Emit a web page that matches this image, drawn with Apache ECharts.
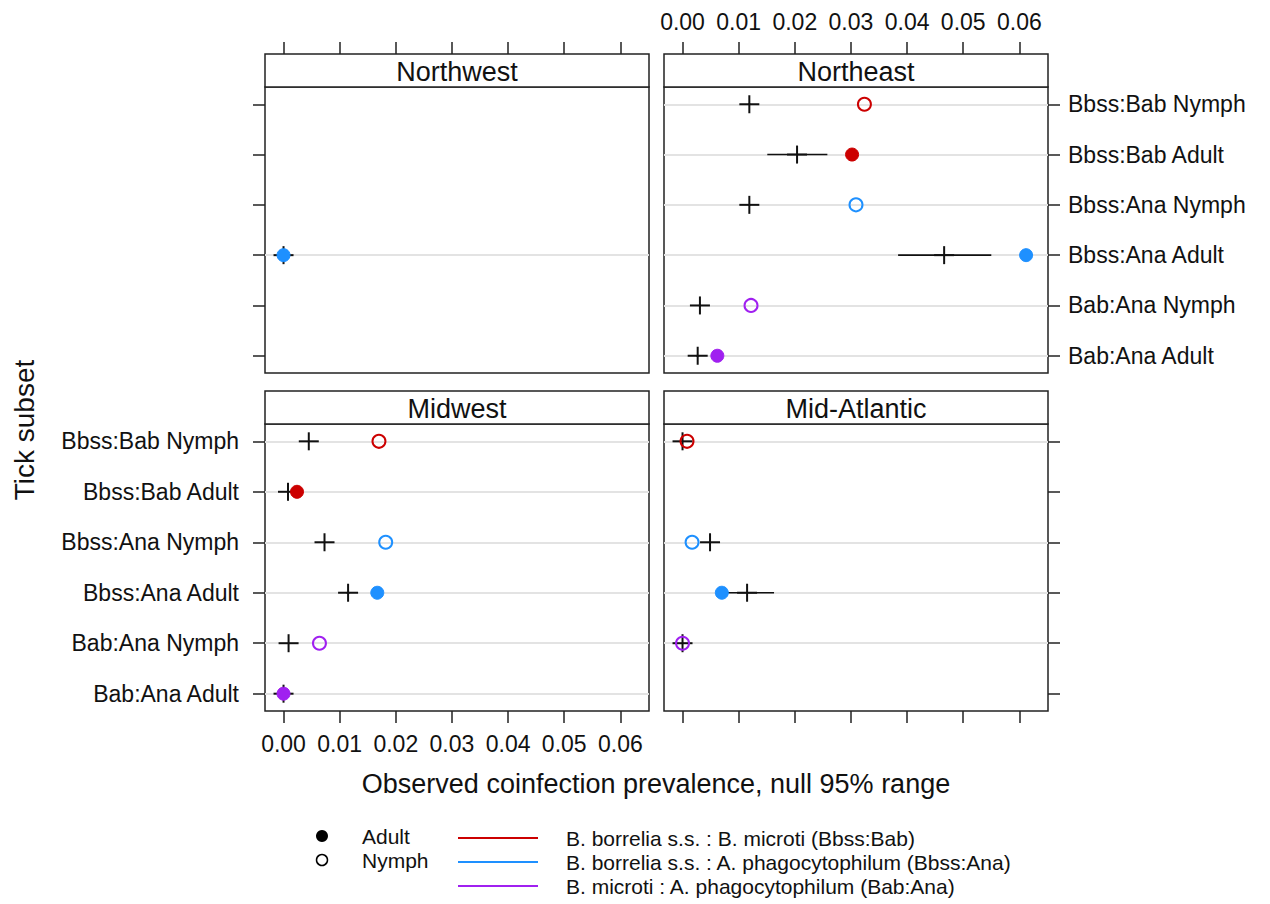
<!DOCTYPE html>
<html>
<head>
<meta charset="utf-8">
<script src="https://cdn.jsdelivr.net/npm/echarts@6/dist/echarts.min.js"></script>
<style>
html,body{margin:0;padding:0;background:#fff;}
#chart{width:1270px;height:904px;}
</style>
</head>
<body>
<div id="chart"></div>
<script>
// ---- data ----
const categories = ['Bbss:Bab Nymph','Bbss:Bab Adult','Bbss:Ana Nymph','Bbss:Ana Adult','Bab:Ana Nymph','Bab:Ana Adult'];
const regions = ['Northwest','Northeast','Midwest','Mid-Atlantic'];
const xTicks = [0, 0.01, 0.02, 0.03, 0.04, 0.05, 0.06];

// observed coinfection prevalence (null = not sampled)
const nwObserved = [null, null, null, 0.0000, null, null];
const neObserved = [0.0324, 0.0302, 0.0309, 0.0612, 0.0122, 0.0062];
const mwObserved = [0.0170, 0.0024, 0.0182, 0.0167, 0.0064, 0.0000];
const maObserved = [0.0008, null, 0.0017, 0.0070, 0.0000, null];

// null distribution: median, lower and upper 95% bounds
const nwNullMid = [null, null, null, 0.0000, null, null];
const nwNullLo  = [null, null, null, 0.0000, null, null];
const nwNullHi  = [null, null, null, 0.0000, null, null];

const neNullMid = [0.0119, 0.0204, 0.0119, 0.0466, 0.0031, 0.0027];
const neNullLo  = [0.0117, 0.0151, 0.0117, 0.0384, 0.0029, 0.0024];
const neNullHi  = [0.0121, 0.0258, 0.0121, 0.0550, 0.0033, 0.0030];

const mwNullMid = [0.0045, 0.0008, 0.0073, 0.0115, 0.0009, 0.0000];
const mwNullLo  = [0.0044, 0.0007, 0.0072, 0.0112, 0.0008, 0.0000];
const mwNullHi  = [0.0046, 0.0009, 0.0074, 0.0118, 0.0010, 0.0000];

const maNullMid = [0.0000, null, 0.0049, 0.0115, 0.0000, null];
const maNullLo  = [0.0000, null, 0.0048, 0.0068, 0.0000, null];
const maNullHi  = [0.0001, null, 0.0050, 0.0163, 0.0001, null];

const pairNames = ['Bbss:Bab', 'Bbss:Ana', 'Bab:Ana'];
const pairLabels = ['B. borrelia s.s. : B. microti (Bbss:Bab)',
                    'B. borrelia s.s. : A. phagocytophilum (Bbss:Ana)',
                    'B. microti : A. phagocytophilum (Bab:Ana)'];
const stageNames = ['Adult', 'Nymph'];

// ---- styling ----
const pairColors = {'Bbss:Bab': '#CC0000', 'Bbss:Ana': '#1E90FF', 'Bab:Ana': '#A020F0'};
const FONT = '"Liberation Sans", Arial, sans-serif';

const regionData = [
  {obs: nwObserved, mid: nwNullMid, lo: nwNullLo, hi: nwNullHi},
  {obs: neObserved, mid: neNullMid, lo: neNullLo, hi: neNullHi},
  {obs: mwObserved, mid: mwNullMid, lo: mwNullLo, hi: mwNullHi},
  {obs: maObserved, mid: maNullMid, lo: maNullLo, hi: maNullHi}
];

// panel layout
const panels = [
  {left: 265, top: 87,  width: 384, height: 286, xPos: 'top',    yPos: 'left',  xLab: false, yLab: false},
  {left: 664, top: 87,  width: 384, height: 286, xPos: 'top',    yPos: 'right', xLab: true,  yLab: true},
  {left: 265, top: 424, width: 384, height: 287, xPos: 'bottom', yPos: 'left',  xLab: true,  yLab: true},
  {left: 664, top: 424, width: 384, height: 287, xPos: 'bottom', yPos: 'right', xLab: false, yLab: false}
];
const STRIP_H = 33;
const rowTicks = categories.map((c, i) => i + 1);

const grids = [], xAxes = [], yAxes = [], series = [], graphics = [];

panels.forEach((p, i) => {
  grids.push({left: p.left, top: p.top, width: p.width, height: p.height,
    show: true, borderColor: '#222', borderWidth: 1.5, backgroundColor: '#fff'});
  xAxes.push({
    gridIndex: i, type: 'value', min: -0.0033, max: 0.0651,
    position: p.xPos, offset: p.xPos === 'top' ? STRIP_H : 0,
    axisLine: {show: false, onZero: false},
    axisTick: {show: true, customValues: xTicks, length: 12, inside: false, lineStyle: {color: '#222', width: 1.5}},
    axisLabel: {show: p.xLab, customValues: xTicks, formatter: v => v.toFixed(2),
      fontSize: 23, color: '#111', fontFamily: FONT, margin: 21},
    splitLine: {show: false}
  });
  yAxes.push({
    gridIndex: i, type: 'value', inverse: true, min: 0.657, max: 6.343,
    position: p.yPos,
    axisLine: {show: false, onZero: false},
    axisTick: {show: true, customValues: rowTicks, length: 12, inside: false, lineStyle: {color: '#222', width: 1.5}},
    axisLabel: {show: p.yLab, customValues: rowTicks, formatter: v => categories[Math.round(v) - 1] || '',
      fontSize: 23, color: '#111', fontFamily: FONT, margin: p.yPos === 'left' ? 26 : 20},
    splitLine: {show: false}
  });

  const d = regionData[i];
  // grey reference lines for rows with data
  const refRows = [];
  d.obs.forEach((v, r) => { if (v !== null) refRows.push({yAxis: r + 1}); });
  series.push({
    type: 'line', xAxisIndex: i, yAxisIndex: i, data: [], z: 1, silent: true,
    markLine: {silent: true, z: 1, symbol: ['none', 'none'], label: {show: false},
      lineStyle: {color: '#E3E3E3', width: 2, type: 'solid'}, data: refRows, animation: false}
  });
  // null range + median cross
  const nullData = [];
  d.mid.forEach((m, r) => { if (m !== null) nullData.push([d.lo[r], m, d.hi[r], r + 1]); });
  series.push({
    type: 'custom', xAxisIndex: i, yAxisIndex: i, z: 3, silent: true,
    dimensions: ['lo', 'mid', 'hi', 'row'],
    encode: {x: [0, 1, 2], y: 3},
    data: nullData,
    renderItem: function (params, api) {
      const pLo = api.coord([api.value(0), api.value(3)]);
      const pM = api.coord([api.value(1), api.value(3)]);
      const pHi = api.coord([api.value(2), api.value(3)]);
      return {type: 'group', children: [
        {type: 'line', shape: {x1: pLo[0], y1: pLo[1], x2: pHi[0], y2: pHi[1]}, style: {stroke: '#111', lineWidth: 1.6}},
        {type: 'line', shape: {x1: pM[0] - 10, y1: pM[1], x2: pM[0] + 10, y2: pM[1]}, style: {stroke: '#111', lineWidth: 2}},
        {type: 'line', shape: {x1: pM[0], y1: pM[1] - 9, x2: pM[0], y2: pM[1] + 9}, style: {stroke: '#111', lineWidth: 2}}
      ]};
    }
  });
  // observed points
  const obsData = [];
  d.obs.forEach((v, r) => {
    if (v === null) return;
    const cat = categories[r];
    const pair = cat.split(' ')[0];
    const adult = cat.indexOf('Adult') >= 0;
    const col = pairColors[pair];
    obsData.push({value: [v, r + 1],
      itemStyle: adult ? {color: col, borderColor: col, borderWidth: 1, opacity: 1}
                       : {color: 'rgba(255,255,255,0)', borderColor: col, borderWidth: 2, opacity: 1}});
  });
  series.push({
    type: 'scatter', xAxisIndex: i, yAxisIndex: i, z: 4, silent: true,
    symbol: 'circle', symbolSize: 13, data: obsData
  });

  // strip
  graphics.push({type: 'rect', shape: {x: p.left, y: p.top - STRIP_H, width: p.width, height: STRIP_H},
    style: {fill: '#fff', stroke: '#222', lineWidth: 1.5}, z: 10});
  graphics.push({type: 'text', x: p.left + p.width / 2, y: p.top - STRIP_H / 2 + 1,
    style: {text: regions[i], font: '27px ' + FONT, fill: '#111', textAlign: 'center', textVerticalAlign: 'middle'}, z: 11});
});

// axis titles
graphics.push({type: 'text', x: 656, y: 784,
  style: {text: 'Observed coinfection prevalence, null 95% range', font: '27px ' + FONT, fill: '#111',
    textAlign: 'center', textVerticalAlign: 'middle'}});
graphics.push({type: 'text', x: 24, y: 430, rotation: Math.PI / 2,
  style: {text: 'Tick subset', font: '28px ' + FONT, fill: '#111', textAlign: 'center', textVerticalAlign: 'middle'}});

// legend key
const keyRowsY = [838, 862, 886];
stageNames.forEach((s, k) => {
  const y = keyRowsY[k] - 2;
  graphics.push({type: 'circle', shape: {cx: 322, cy: y, r: k === 0 ? 6 : 5.5},
    style: k === 0 ? {fill: '#000'} : {fill: '#fff', stroke: '#000', lineWidth: 1.5}});
  graphics.push({type: 'text', x: 362, y: y,
    style: {text: s, font: '21px ' + FONT, fill: '#111', textVerticalAlign: 'middle'}});
});
pairNames.forEach((pn, k) => {
  const y = keyRowsY[k];
  graphics.push({type: 'line', shape: {x1: 458, y1: y, x2: 538, y2: y},
    style: {stroke: pairColors[pn], lineWidth: 2}});
  graphics.push({type: 'text', x: 566, y: y,
    style: {text: pairLabels[k], font: '21px ' + FONT, fill: '#111', textVerticalAlign: 'middle'}});
});

const chart = echarts.init(document.getElementById('chart'), null, {renderer: 'svg'});
chart.setOption({
  animation: false,
  backgroundColor: '#fff',
  grid: grids,
  xAxis: xAxes,
  yAxis: yAxes,
  series: series,
  graphic: graphics
});
</script>
</body>
</html>
